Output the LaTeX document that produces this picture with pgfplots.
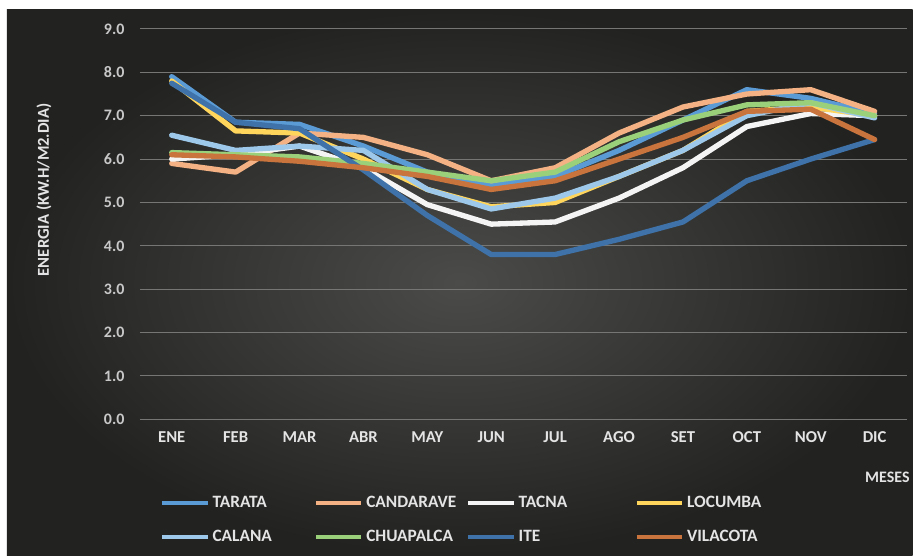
\documentclass[border=0pt]{standalone}
\usepackage{pgfplots}
\usepackage{pgfplotstable}
\pgfplotsset{compat=1.18}
\usepackage{fontspec}
\setmainfont{Carlito}

\definecolor{bgin}{HTML}{4B4C4A}
\definecolor{bgout}{HTML}{222321}
\definecolor{gridc}{HTML}{767775}
\definecolor{txt}{HTML}{E4E4E4}
\definecolor{ticktxt}{HTML}{C8C8C8}
\definecolor{cTarata}{HTML}{5B9BD5}
\definecolor{cCandarave}{HTML}{F4B183}
\definecolor{cTacna}{HTML}{F4F4F4}
\definecolor{cLocumba}{HTML}{FFD55C}
\definecolor{cCalana}{HTML}{9DC8EA}
\definecolor{cChuapalca}{HTML}{9BD07A}
\definecolor{cIte}{HTML}{3E72A8}
\definecolor{cVilacota}{HTML}{C8743C}

% Radiacion solar media diaria por mes (kW.h/m2.dia)
\pgfplotstableread{
mes TARATA CANDARAVE TACNA LOCUMBA CALANA CHUAPALCA ITE  VILACOTA
0   7.90   5.90      6.00  7.80    6.55   6.15      7.75 6.10
1   6.85   5.70      6.10  6.65    6.20   6.10      6.85 6.05
2   6.80   6.60      6.30  6.60    6.30   6.05      6.70 5.95
3   6.30   6.50      5.80  6.00    6.20   5.90      5.75 5.80
4   5.70   6.10      4.95  5.30    5.30   5.70      4.70 5.60
5   5.40   5.50      4.50  4.90    4.85   5.50      3.80 5.30
6   5.60   5.80      4.55  5.00    5.10   5.70      3.80 5.50
7   6.20   6.60      5.10  5.60    5.60   6.40      4.15 6.00
8   6.90   7.20      5.80  6.20    6.20   6.90      4.55 6.50
9   7.60   7.50      6.75  7.10    7.00   7.25      5.50 7.10
10  7.40   7.60      7.05  7.20    7.30   7.30      6.00 7.15
11  7.05   7.10      7.00  7.00    6.95   7.00      6.45 6.45
}\datos

\begin{document}
\begin{tikzpicture}
% marco de la foto y fondo oscuro
\fill[white] (0pt,0pt) rectangle (685.5pt,417pt);
\shade[inner color=bgin, outer color=bgout] (5.25pt,0pt) rectangle (685.5pt,409.5pt);
\begin{axis}[
  at={(105pt,102pt)}, anchor=south west,
  scale only axis, width=576pt, height=293.25pt,
  xmin=-0.5, xmax=11.5, ymin=0, ymax=9,
  axis line style={draw=none},
  xtick={0,...,11},
  xticklabels={ENE,FEB,MAR,ABR,MAY,JUN,JUL,AGO,SET,OCT,NOV,DIC},
  ytick={0,1,...,9},
  major tick length=0pt,
  ymajorgrids, grid style={gridc, line width=0.8pt},
  /pgf/number format/.cd, fixed, fixed zerofill, precision=1, assume math mode=true,
  /pgfplots/.cd,
  xticklabel style={font=\bfseries\fontsize{12.5}{14}\selectfont, text=txt, yshift=-6pt},
  yticklabel style={font=\bfseries\fontsize{12}{14}\selectfont, text=ticktxt, xshift=-8pt},
  ylabel={ENERGIA (KW.H/M2.DIA)},
  ylabel style={at={(axis description cs:-0.125,0.588)}, anchor=center,
    rotate=0, font=\bfseries\fontsize{12.5}{14}\selectfont, text=txt},
  every axis plot/.append style={line width=4pt, line join=round, line cap=round},
  legend columns=4,
  legend image code/.code={\draw[#1, line cap=butt, line width=3.5pt] (0pt,0pt) -- (34pt,0pt);},
  legend style={at={(axis description cs:0.026,-0.196)}, anchor=north west,
    draw=none, fill=none, inner sep=0pt, text=txt,
    font=\bfseries\fontsize{13}{15}\selectfont,
    nodes={inner sep=0pt, text height=8.5pt, text depth=2pt},
    /tikz/every odd column/.append style={column sep=2pt},
    /tikz/every even column/.append style={column sep=0pt},
    row sep=15pt},
  clip=false,
]
\addplot[cTarata] table[x=mes, y=TARATA] {\datos};
\addlegendentry{\makebox[76pt][l]{TARATA}}
\addplot[cCandarave] table[x=mes, y=CANDARAVE] {\datos};
\addlegendentry{\makebox[75pt][l]{CANDARAVE}}
\addplot[cTacna] table[x=mes, y=TACNA] {\datos};
\addlegendentry{\makebox[87pt][l]{TACNA}}
\addplot[cLocumba] table[x=mes, y=LOCUMBA] {\datos};
\addlegendentry{\makebox[60pt][l]{LOCUMBA}}
\addplot[cCalana] table[x=mes, y=CALANA] {\datos};
\addlegendentry{\makebox[76pt][l]{CALANA}}
\addplot[cChuapalca] table[x=mes, y=CHUAPALCA] {\datos};
\addlegendentry{\makebox[75pt][l]{CHUAPALCA}}
\addplot[cIte] table[x=mes, y=ITE] {\datos};
\addlegendentry{\makebox[87pt][l]{ITE}}
\addplot[cVilacota] table[x=mes, y=VILACOTA] {\datos};
\addlegendentry{\makebox[60pt][l]{VILACOTA}}
\node[font=\bfseries\fontsize{12}{14}\selectfont, text=txt]
  at (axis description cs:0.975,-0.148) {MESES};
\end{axis}
\end{tikzpicture}
\end{document}
